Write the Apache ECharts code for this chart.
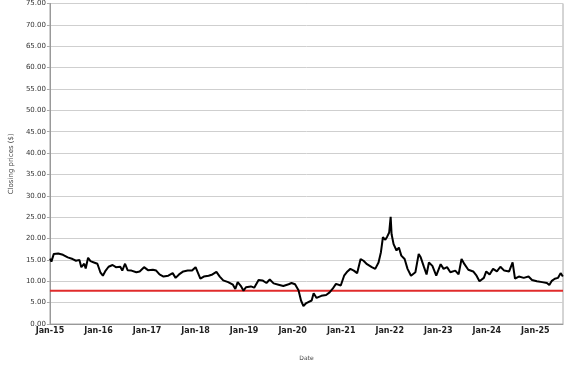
<!DOCTYPE html>
<html>
<head>
<meta charset="utf-8">
<script src="https://cdn.jsdelivr.net/npm/echarts@6/dist/echarts.min.js"></script>
<style>html,body{margin:0;padding:0;background:#fff;}#c{width:577px;height:367px;}</style>
</head>
<body>
<div id="c"></div>
<script>
const dates = [
'2015-01-02','2015-01-12','2015-01-30','2015-03-04','2015-04-09','2015-05-15','2015-06-21','2015-07-16','2015-08-11','2015-08-25','2015-09-16','2015-09-27','2015-10-15','2015-11-02','2015-11-28','2015-12-24',
'2016-01-15','2016-02-03','2016-02-24','2016-03-17','2016-04-16','2016-05-11','2016-06-13','2016-06-28','2016-07-19','2016-08-07','2016-09-05','2016-10-12','2016-11-06','2016-12-09',
'2017-01-08','2017-02-14','2017-03-11','2017-04-05','2017-05-05','2017-06-10','2017-07-13','2017-08-04','2017-08-30','2017-10-01','2017-11-03','2017-12-06',
'2018-01-01','2018-01-12','2018-02-06','2018-03-04','2018-04-09','2018-05-08','2018-06-07','2018-07-02','2018-07-28','2018-09-03','2018-10-09','2018-10-27','2018-11-14','2018-12-10','2018-12-28',
'2019-01-15','2019-02-21','2019-03-18','2019-04-20','2019-05-19','2019-06-18','2019-07-13','2019-08-11','2019-09-17','2019-10-23','2019-12-02','2019-12-24',
'2020-01-19','2020-02-14','2020-03-04','2020-03-22','2020-04-13','2020-05-23','2020-06-07','2020-06-29','2020-08-04','2020-09-09','2020-10-05','2020-10-27','2020-11-22','2020-12-28',
'2021-01-23','2021-02-17','2021-03-11','2021-04-06','2021-05-01','2021-05-27','2021-06-18','2021-07-14','2021-08-19','2021-09-14','2021-10-09','2021-10-27','2021-11-11','2021-11-29','2021-12-14','2021-12-28',
'2022-01-08','2022-01-15','2022-01-30','2022-02-21','2022-03-11','2022-03-29','2022-04-23','2022-05-15','2022-06-10','2022-07-13','2022-08-07','2022-08-22','2022-09-16','2022-10-05','2022-10-23','2022-11-18','2022-12-17',
'2023-01-19','2023-02-10','2023-03-08','2023-04-02','2023-05-09','2023-06-03','2023-06-25','2023-07-17','2023-08-15','2023-09-21','2023-10-16','2023-11-07','2023-12-10','2023-12-28',
'2024-01-22','2024-02-17','2024-03-17','2024-04-12','2024-05-11','2024-06-17','2024-07-13','2024-07-31','2024-08-29','2024-10-05','2024-11-10','2024-12-06',
'2025-01-12','2025-02-21','2025-03-29','2025-04-16','2025-05-05','2025-05-27','2025-06-21','2025-07-10','2025-07-27'
];
const closes = [
15.3,14.6,16.4,16.5,16.2,15.6,15.2,14.8,15.0,13.3,14.1,13.0,15.5,14.7,14.4,14.1,
12.1,11.3,12.5,13.4,13.8,13.3,13.4,12.5,14.1,12.6,12.5,12.1,12.3,13.3,
12.6,12.7,12.5,11.6,11.1,11.3,11.9,10.8,11.6,12.3,12.5,12.5,
13.3,13.4,10.6,11.1,11.3,11.6,12.2,11.1,10.2,9.8,9.2,8.2,9.8,8.8,7.8,
8.6,8.8,8.5,10.3,10.2,9.6,10.4,9.5,9.2,8.9,9.3,9.6,
9.3,7.9,5.5,4.2,4.9,5.5,7.2,6.1,6.6,6.8,7.4,8.2,9.4,9.0,
11.3,12.3,12.9,12.5,11.9,15.2,14.8,14.0,13.3,12.9,14.4,16.8,20.3,19.7,20.5,21.4,
25.1,21.0,18.7,17.2,17.9,16.0,15.2,12.9,11.3,12.1,16.4,15.6,13.3,11.6,14.4,13.6,11.3,
14.0,12.9,13.3,12.1,12.5,11.6,15.2,14.0,12.7,12.3,11.3,10.0,10.8,12.3,
11.6,12.9,12.3,13.4,12.5,12.3,14.4,10.6,11.1,10.8,11.1,10.3,
10.0,9.8,9.6,9.1,10.1,10.6,10.8,11.9,11.1
];
const refLevel = 7.8;
const xStart = '2015-01-01';
const xEnd = '2025-07-28';
const yTicks = [0,5,10,15,20,25,30,35,40,45,50,55,60,65,70,75];

function toYear(s){
  const p = s.split('-').map(Number);
  const t = Date.UTC(p[0], p[1]-1, p[2]);
  return p[0] + (t - Date.UTC(p[0],0,1)) / (365.25*864e5);
}
const xMin = toYear(xStart), xMax = toYear(xEnd);
const priceData = dates.map((d,i)=>[toYear(d), closes[i]]);
const refData = [[xMin, refLevel],[xMax, refLevel]];

const font = 'DejaVu Sans';
const chart = echarts.init(document.getElementById('c'), null, {renderer:'canvas'});
chart.setOption({
  backgroundColor:'#fff',
  animation:false,
  grid:{left:40, top:3, width:523, height:321, show:true, borderColor:'#aaa', borderWidth:1, backgroundColor:'transparent'},
  xAxis:{
    type:'value', min:xMin, max:xMax, interval:1,
    name:'Date', nameLocation:'middle', nameGap:31,
    nameTextStyle:{fontFamily:font, fontSize:6, color:'#444'},
    axisLine:{show:true, lineStyle:{color:'#999'}},
    axisTick:{show:false},
    splitLine:{show:false},
    axisLabel:{fontFamily:font, fontSize:8, fontWeight:'bold', color:'#222', margin:3,
      formatter:v=> Math.abs(v-Math.round(v))<1e-6 ? 'Jan-'+String(Math.round(v)).slice(2) : ''}
  },
  yAxis:{
    type:'value', min:yTicks[0], max:yTicks[yTicks.length-1], interval:yTicks[1]-yTicks[0],
    name:'Closing prices ($)', nameLocation:'middle', nameGap:31,
    nameTextStyle:{fontFamily:font, fontSize:7, color:'#444'},
    axisLine:{show:true, lineStyle:{color:'#999'}},
    axisTick:{show:true, length:3, lineStyle:{color:'#aaa'}},
    splitLine:{show:true, lineStyle:{color:'#cfcfcf', width:1}},
    axisLabel:{fontFamily:font, fontSize:7, color:'#333', margin:4, formatter:v=>v.toFixed(2)}
  },
  series:[
    {type:'line', data:refData, showSymbol:false, symbol:'none', lineStyle:{color:'#e02b2b', width:2}, z:2},
    {type:'line', data:priceData, showSymbol:false, symbol:'none', lineStyle:{color:'#000', width:2}, z:3}
  ]
});
</script>
</body>
</html>
